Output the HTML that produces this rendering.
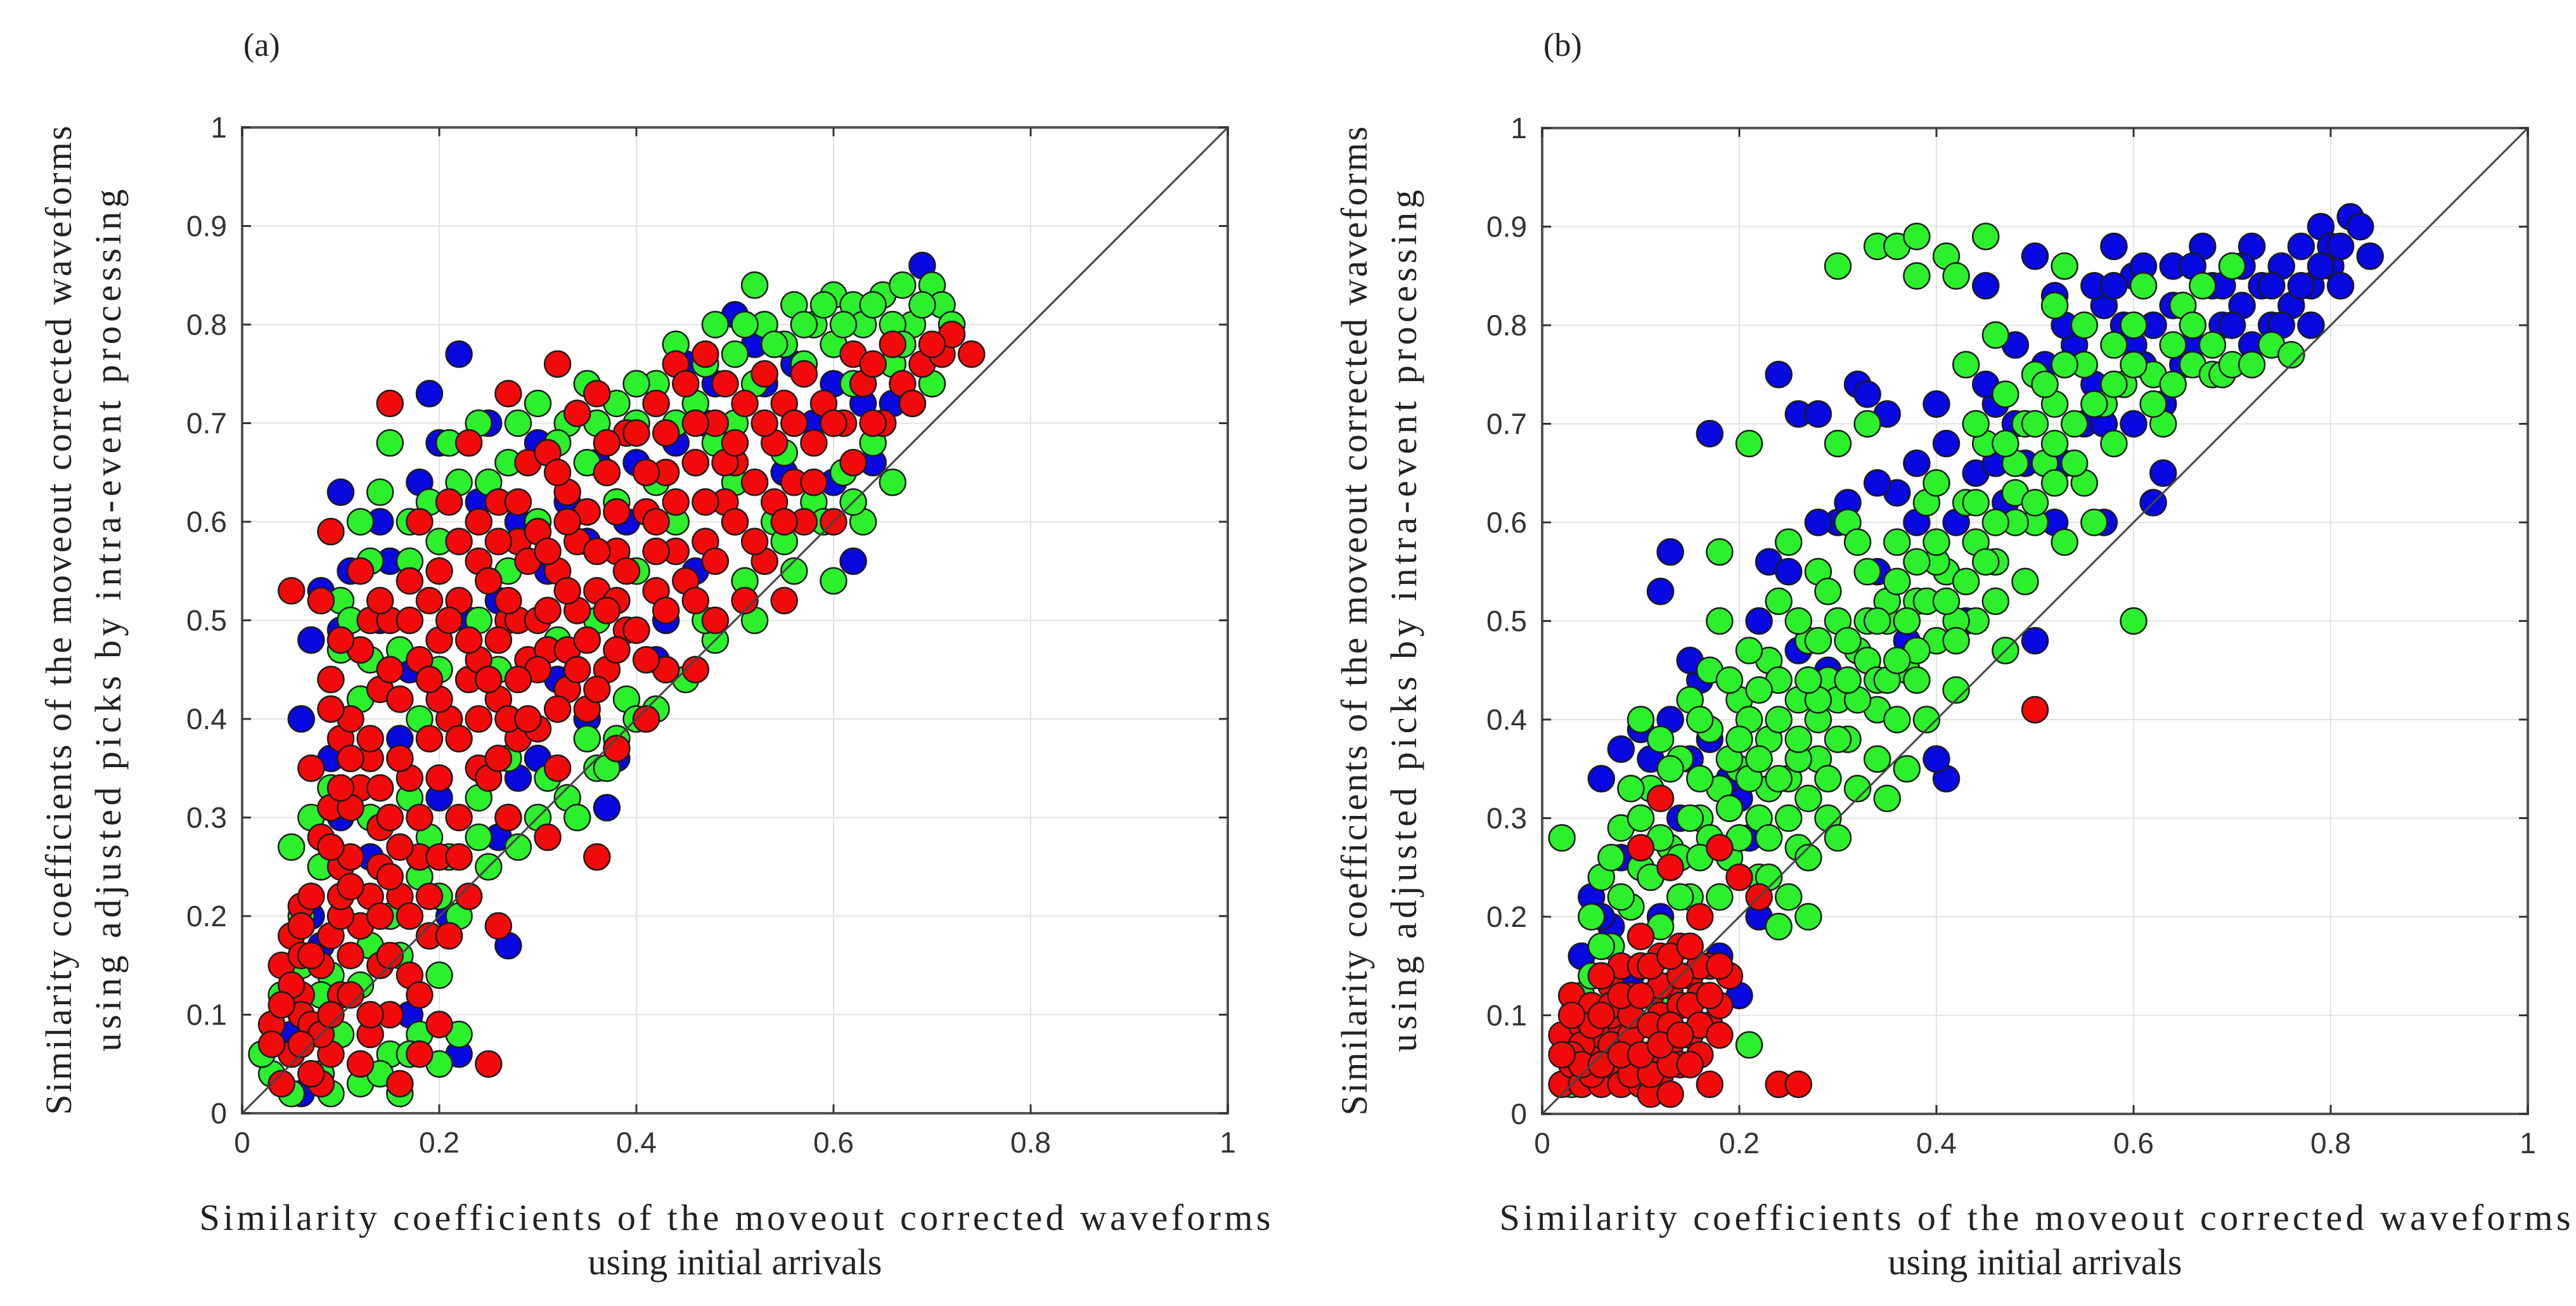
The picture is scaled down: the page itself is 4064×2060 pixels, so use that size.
<!DOCTYPE html>
<html><head><meta charset="utf-8"><style>html,body{margin:0;padding:0;background:#fff}svg{display:block}</style></head>
<body>
<svg id="fig" width="4064" height="2060" viewBox="0 0 4064 2060" xmlns="http://www.w3.org/2000/svg">
<rect width="4064" height="2060" fill="#fff"/>
<g id="pa"></g>
<g id="pb"></g>
</svg>
<script>
const xTicks=[0,0.2,0.4,0.6,0.8,1];
const xTickLabels=["0","0.2","0.4","0.6","0.8","1"];
const yTicks=[0,0.1,0.2,0.3,0.4,0.5,0.6,0.7,0.8,0.9,1];
const yTickLabels=["0","0.1","0.2","0.3","0.4","0.5","0.6","0.7","0.8","0.9","1"];
const blueA=[[0.03,0.09],[0.04,0.03],[0.06,0.02],[0.07,0.2],[0.06,0.4],[0.07,0.48],[0.08,0.53],[0.1,0.49],[0.1,0.63],[0.12,0.42],[0.14,0.5],[0.15,0.56],[0.16,0.38],[0.18,0.64],[0.19,0.73],[0.21,0.2],[0.22,0.06],[0.22,0.77],[0.24,0.62],[0.25,0.7],[0.27,0.17],[0.28,0.34],[0.3,0.68],[0.33,0.62],[0.35,0.58],[0.37,0.31],[0.38,0.36],[0.4,0.66],[0.42,0.72],[0.45,0.76],[0.46,0.55],[0.48,0.74],[0.5,0.6],[0.5,0.81],[0.53,0.74],[0.55,0.65],[0.58,0.7],[0.6,0.64],[0.62,0.56],[0.63,0.72],[0.66,0.72],[0.69,0.86],[0.7,0.74],[0.13,0.26],[0.2,0.32],[0.26,0.52],[0.32,0.44],[0.43,0.5],[0.17,0.1],[0.08,0.17],
[0.05,0.08],[0.09,0.36],[0.11,0.55],[0.14,0.6],[0.17,0.45],[0.2,0.68],[0.23,0.5],[0.28,0.6],[0.31,0.55],[0.36,0.66],[0.39,0.6],[0.44,0.68],[0.47,0.7],[0.52,0.78],[0.56,0.76],[0.6,0.74],[0.64,0.66],[0.67,0.78],[0.35,0.4],[0.3,0.36],[0.42,0.46],[0.26,0.28],[0.18,0.24],[0.1,0.3]];
const greenA=[[0.05,0.02],[0.08,0.04],[0.12,0.03],[0.16,0.02],[0.18,0.08],[0.15,0.06],[0.22,0.08],[0.1,0.08],[0.04,0.12],[0.06,0.15],[0.09,0.14],[0.13,0.17],[0.2,0.14],[0.22,0.2],[0.25,0.25],[0.28,0.27],[0.3,0.3],[0.33,0.32],[0.36,0.35],[0.38,0.38],[0.42,0.41],[0.45,0.44],[0.48,0.48],[0.52,0.5],[0.56,0.55],[0.6,0.54],[0.63,0.6],[0.05,0.27],[0.09,0.33],[0.11,0.36],[0.08,0.25],[0.13,0.3],[0.17,0.32],[0.19,0.28],[0.24,0.32],[0.27,0.36],[0.1,0.52],[0.13,0.56],[0.14,0.63],[0.15,0.68],[0.17,0.6],[0.2,0.58],[0.22,0.64],[0.24,0.7],[0.27,0.66],[0.3,0.72],[0.33,0.7],[0.35,0.74],[0.38,0.72],[0.4,0.7],[0.42,0.74],[0.44,0.78],[0.46,0.72],[0.48,0.8],[0.5,0.77],[0.52,0.84],[0.53,0.8],[0.55,0.78],[0.56,0.82],[0.58,0.8],[0.6,0.83],[0.62,0.82],[0.63,0.8],[0.65,0.83],[0.67,0.84],[0.68,0.8],[0.7,0.84],[0.71,0.82],[0.72,0.8],[0.6,0.78],[0.57,0.76],[0.5,0.7],[0.46,0.66],[0.42,0.64],[0.38,0.62],[0.35,0.66],[0.3,0.6],[0.27,0.55],[0.24,0.5],[0.2,0.45],[0.16,0.47],[0.12,0.42],[0.1,0.47],[0.07,0.3],[0.18,0.4],[0.26,0.45],[0.32,0.48],[0.36,0.5],[0.4,0.55],[0.44,0.6],[0.5,0.64],[0.55,0.67],[0.6,0.7],[0.64,0.68],[0.68,0.72],[0.66,0.76],[0.7,0.74],[0.58,0.62],[0.54,0.6],[0.61,0.65],[0.66,0.64],
[0.06,0.2],[0.07,0.04],[0.09,0.02],[0.14,0.04],[0.2,0.05],[0.17,0.06],[0.12,0.13],[0.15,0.2],[0.18,0.24],[0.21,0.26],[0.24,0.28],[0.27,0.3],[0.31,0.34],[0.35,0.38],[0.39,0.42],[0.43,0.45],[0.47,0.5],[0.51,0.54],[0.55,0.58],[0.59,0.6],[0.62,0.62],[0.12,0.6],[0.11,0.5],[0.13,0.46],[0.17,0.56],[0.19,0.62],[0.21,0.68],[0.25,0.64],[0.28,0.7],[0.32,0.68],[0.36,0.7],[0.4,0.74],[0.44,0.7],[0.47,0.76],[0.51,0.8],[0.54,0.78],[0.57,0.8],[0.59,0.82],[0.61,0.8],[0.64,0.82],[0.66,0.8],[0.69,0.82],[0.48,0.68],[0.52,0.74],[0.56,0.7],[0.62,0.74],[0.67,0.78],[0.03,0.04],[0.02,0.06],[0.08,0.12],[0.16,0.16],[0.2,0.22],[0.4,0.4],[0.37,0.35],[0.34,0.3]];
const redA=[[0.04,0.03],[0.05,0.06],[0.03,0.09],[0.06,0.12],[0.04,0.15],[0.05,0.18],[0.06,0.21],[0.03,0.07],[0.06,0.1],[0.05,0.53],[0.08,0.03],[0.09,0.06],[0.07,0.09],[0.1,0.12],[0.08,0.15],[0.09,0.18],[0.07,0.22],[0.1,0.25],[0.08,0.28],[0.09,0.31],[0.07,0.35],[0.1,0.38],[0.09,0.44],[0.08,0.52],[0.09,0.59],[0.12,0.05],[0.13,0.08],[0.11,0.12],[0.14,0.15],[0.12,0.19],[0.13,0.22],[0.11,0.26],[0.14,0.29],[0.12,0.33],[0.13,0.36],[0.11,0.4],[0.14,0.43],[0.12,0.47],[0.13,0.5],[0.12,0.55],[0.16,0.03],[0.18,0.06],[0.15,0.1],[0.17,0.14],[0.19,0.18],[0.16,0.22],[0.18,0.26],[0.15,0.3],[0.17,0.34],[0.19,0.38],[0.16,0.42],[0.18,0.46],[0.15,0.5],[0.17,0.54],[0.18,0.6],[0.15,0.72],[0.2,0.09],[0.21,0.18],[0.23,0.22],[0.2,0.26],[0.22,0.3],[0.24,0.35],[0.21,0.4],[0.23,0.44],[0.2,0.48],[0.22,0.52],[0.24,0.56],[0.21,0.62],[0.23,0.68],[0.25,0.05],[0.26,0.19],[0.27,0.3],[0.25,0.34],[0.28,0.38],[0.26,0.42],[0.29,0.46],[0.27,0.5],[0.25,0.54],[0.28,0.58],[0.26,0.62],[0.29,0.66],[0.27,0.73],[0.31,0.28],[0.32,0.35],[0.3,0.39],[0.33,0.43],[0.31,0.47],[0.34,0.51],[0.32,0.55],[0.3,0.59],[0.33,0.63],[0.31,0.67],[0.34,0.71],[0.32,0.76],[0.36,0.26],[0.38,0.37],[0.35,0.41],[0.37,0.45],[0.39,0.49],[0.36,0.53],[0.38,0.57],[0.35,0.61],[0.37,0.65],[0.39,0.69],[0.36,0.73],[0.41,0.4],[0.43,0.45],[0.4,0.49],[0.42,0.53],[0.44,0.57],[0.41,0.61],[0.43,0.65],[0.4,0.69],[0.42,0.72],[0.44,0.76],[0.46,0.45],[0.48,0.5],[0.45,0.54],[0.47,0.58],[0.49,0.62],[0.46,0.66],[0.48,0.7],[0.45,0.74],[0.47,0.77],[0.51,0.52],[0.53,0.56],[0.5,0.6],[0.52,0.64],[0.54,0.68],[0.51,0.72],[0.53,0.75],[0.55,0.52],[0.57,0.6],[0.56,0.64],[0.58,0.68],[0.55,0.72],[0.57,0.75],[0.6,0.6],[0.62,0.66],[0.61,0.7],[0.63,0.74],[0.62,0.77],[0.65,0.7],[0.67,0.74],[0.66,0.78],[0.69,0.76],[0.71,0.77],[0.74,0.77],[0.72,0.79],[0.14,0.25],[0.1,0.2],[0.16,0.36],[0.2,0.42],[0.24,0.46],[0.3,0.45],[0.34,0.58],[0.28,0.5],[0.22,0.38],[0.18,0.12],[0.11,0.31],[0.26,0.36],[0.38,0.52],[0.42,0.6],[0.5,0.66],[0.06,0.16],[0.08,0.08],
[0.07,0.04],[0.06,0.07],[0.05,0.13],[0.07,0.16],[0.06,0.19],[0.04,0.11],[0.09,0.1],[0.11,0.16],[0.1,0.22],[0.09,0.27],[0.1,0.33],[0.11,0.36],[0.09,0.41],[0.1,0.48],[0.11,0.23],[0.13,0.1],[0.14,0.2],[0.15,0.24],[0.14,0.33],[0.13,0.38],[0.15,0.45],[0.14,0.52],[0.16,0.27],[0.15,0.16],[0.19,0.22],[0.18,0.3],[0.2,0.34],[0.19,0.44],[0.17,0.5],[0.19,0.52],[0.2,0.55],[0.17,0.2],[0.22,0.26],[0.24,0.4],[0.23,0.48],[0.21,0.5],[0.25,0.44],[0.24,0.6],[0.22,0.58],[0.27,0.4],[0.26,0.48],[0.28,0.44],[0.27,0.52],[0.29,0.56],[0.26,0.58],[0.28,0.62],[0.29,0.4],[0.3,0.5],[0.33,0.47],[0.31,0.51],[0.32,0.41],[0.34,0.45],[0.33,0.53],[0.31,0.57],[0.33,0.6],[0.35,0.48],[0.32,0.65],[0.36,0.43],[0.38,0.47],[0.37,0.51],[0.36,0.57],[0.38,0.61],[0.39,0.55],[0.37,0.68],[0.41,0.46],[0.43,0.51],[0.42,0.57],[0.41,0.65],[0.44,0.62],[0.43,0.69],[0.46,0.52],[0.48,0.56],[0.47,0.62],[0.49,0.66],[0.46,0.7],[0.49,0.74],[0.52,0.58],[0.5,0.68],[0.54,0.62],[0.53,0.7],[0.55,0.6],[0.58,0.64],[0.59,0.72],[0.6,0.7],[0.56,0.7],[0.64,0.7],[0.64,0.76],[0.68,0.72],[0.7,0.78]];
const blueB=[[0.03,0.1],[0.06,0.34],[0.08,0.37],[0.1,0.39],[0.12,0.53],[0.13,0.57],[0.14,0.3],[0.15,0.36],[0.16,0.44],[0.17,0.69],[0.18,0.16],[0.2,0.32],[0.22,0.2],[0.23,0.56],[0.24,0.75],[0.26,0.71],[0.28,0.71],[0.3,0.6],[0.32,0.74],[0.33,0.73],[0.35,0.71],[0.36,0.63],[0.38,0.66],[0.4,0.72],[0.41,0.34],[0.42,0.6],[0.44,0.65],[0.45,0.84],[0.46,0.72],[0.48,0.78],[0.5,0.87],[0.5,0.48],[0.52,0.83],[0.54,0.78],[0.56,0.74],[0.57,0.82],[0.58,0.88],[0.59,0.8],[0.6,0.85],[0.6,0.7],[0.61,0.76],[0.62,0.8],[0.63,0.72],[0.64,0.86],[0.65,0.82],[0.66,0.78],[0.67,0.88],[0.68,0.84],[0.69,0.8],[0.7,0.86],[0.71,0.82],[0.72,0.78],[0.72,0.88],[0.73,0.84],[0.74,0.8],[0.75,0.86],[0.76,0.82],[0.77,0.88],[0.78,0.84],[0.79,0.9],[0.8,0.86],[0.8,0.88],[0.81,0.84],[0.82,0.91],[0.83,0.9],[0.84,0.87],[0.63,0.65],[0.55,0.7],[0.47,0.62],[0.43,0.5],[0.37,0.48],[0.34,0.55],[0.29,0.45],[0.26,0.47],[0.21,0.28],[0.12,0.2],[0.09,0.14],[0.07,0.19],[0.05,0.22],[0.53,0.66],[0.49,0.66],[0.57,0.6],[0.62,0.62],[0.4,0.36],[0.2,0.12],
[0.04,0.16],[0.06,0.2],[0.08,0.26],[0.1,0.3],[0.11,0.36],[0.13,0.4],[0.15,0.46],[0.17,0.38],[0.19,0.34],[0.22,0.5],[0.25,0.55],[0.28,0.6],[0.31,0.62],[0.34,0.64],[0.38,0.6],[0.41,0.68],[0.45,0.74],[0.48,0.7],[0.51,0.76],[0.53,0.8],[0.56,0.84],[0.58,0.84],[0.61,0.86],[0.64,0.82],[0.66,0.86],[0.69,0.84],[0.71,0.86],[0.74,0.84],[0.77,0.84],[0.79,0.86],[0.81,0.88],[0.6,0.78],[0.65,0.76],[0.7,0.8],[0.75,0.8],[0.78,0.8],[0.57,0.7],[0.52,0.6],[0.46,0.66]];
const greenB=[[0.02,0.28],[0.03,0.03],[0.04,0.12],[0.05,0.2],[0.06,0.24],[0.07,0.17],[0.08,0.29],[0.09,0.21],[0.1,0.25],[0.11,0.33],[0.12,0.19],[0.13,0.27],[0.14,0.36],[0.15,0.22],[0.16,0.3],[0.17,0.39],[0.17,0.45],[0.18,0.5],[0.18,0.57],[0.19,0.26],[0.2,0.35],[0.2,0.42],[0.21,0.07],[0.21,0.68],[0.22,0.3],[0.23,0.38],[0.23,0.46],[0.24,0.19],[0.24,0.52],[0.25,0.34],[0.25,0.58],[0.26,0.42],[0.26,0.27],[0.27,0.2],[0.27,0.48],[0.28,0.36],[0.28,0.55],[0.29,0.3],[0.29,0.44],[0.3,0.86],[0.3,0.5],[0.3,0.68],[0.31,0.38],[0.31,0.6],[0.32,0.33],[0.32,0.47],[0.33,0.55],[0.33,0.7],[0.34,0.88],[0.34,0.41],[0.35,0.5],[0.35,0.32],[0.36,0.88],[0.36,0.58],[0.37,0.45],[0.37,0.35],[0.38,0.89],[0.38,0.85],[0.38,0.52],[0.39,0.62],[0.39,0.4],[0.4,0.48],[0.41,0.55],[0.41,0.87],[0.42,0.85],[0.42,0.43],[0.43,0.76],[0.43,0.62],[0.44,0.5],[0.45,0.68],[0.45,0.89],[0.46,0.56],[0.46,0.79],[0.47,0.47],[0.47,0.73],[0.48,0.63],[0.49,0.7],[0.49,0.54],[0.5,0.75],[0.5,0.6],[0.51,0.66],[0.52,0.82],[0.52,0.72],[0.53,0.58],[0.53,0.86],[0.54,0.7],[0.55,0.76],[0.55,0.64],[0.56,0.6],[0.57,0.72],[0.58,0.68],[0.58,0.78],[0.59,0.74],[0.6,0.5],[0.6,0.8],[0.61,0.84],[0.62,0.75],[0.63,0.7],[0.64,0.78],[0.65,0.82],[0.66,0.76],[0.67,0.84],[0.68,0.75],[0.69,0.75],[0.7,0.86],[0.7,0.76],[0.72,0.76],[0.74,0.78],[0.76,0.77],[0.1,0.4],[0.12,0.38],[0.15,0.42],[0.18,0.33],[0.21,0.4],[0.24,0.44],[0.26,0.36],[0.3,0.42],[0.33,0.46],[0.36,0.4],[0.4,0.56],[0.44,0.58],[0.48,0.6],[0.52,0.64],[0.3,0.28],[0.27,0.32],[0.22,0.24],[0.08,0.1],[0.1,0.15],[0.13,0.12],[0.06,0.07],[0.19,0.36],[0.23,0.33],[0.28,0.4],[0.34,0.36],[0.38,0.44],[0.42,0.5],[0.46,0.52],[0.14,0.26],[0.16,0.34],
[0.15,0.3],[0.17,0.28],[0.19,0.31],[0.21,0.34],[0.23,0.28],[0.25,0.3],[0.22,0.36],[0.24,0.4],[0.26,0.38],[0.28,0.42],[0.3,0.38],[0.32,0.42],[0.34,0.44],[0.31,0.48],[0.33,0.5],[0.35,0.52],[0.37,0.5],[0.39,0.52],[0.36,0.54],[0.38,0.56],[0.4,0.58],[0.41,0.52],[0.43,0.54],[0.45,0.56],[0.44,0.62],[0.46,0.6],[0.48,0.66],[0.5,0.62],[0.47,0.68],[0.5,0.7],[0.52,0.68],[0.54,0.66],[0.51,0.74],[0.53,0.76],[0.56,0.72],[0.58,0.74],[0.55,0.8],[0.6,0.76],[0.62,0.72],[0.64,0.74],[0.66,0.8],[0.68,0.78],[0.29,0.34],[0.27,0.26],[0.25,0.22],[0.23,0.24],[0.2,0.28],[0.18,0.22],[0.16,0.26],[0.14,0.22],[0.12,0.28],[0.11,0.24],[0.13,0.35],[0.16,0.4],[0.19,0.44],[0.21,0.47],[0.2,0.38],[0.22,0.43],[0.26,0.5],[0.29,0.53],[0.32,0.58],[0.35,0.44],[0.38,0.47],[0.42,0.48],[0.27,0.44],[0.1,0.3],[0.08,0.22],[0.06,0.17],[0.05,0.14],[0.07,0.26],[0.09,0.33],[0.28,0.48],[0.31,0.44],[0.34,0.5],[0.44,0.7],[0.4,0.64],[0.36,0.46],[0.24,0.34]];
const redB=[[0.02,0.03],[0.03,0.05],[0.02,0.08],[0.04,0.03],[0.05,0.06],[0.04,0.09],[0.03,0.12],[0.06,0.03],[0.07,0.05],[0.06,0.08],[0.05,0.11],[0.07,0.13],[0.08,0.03],[0.09,0.06],[0.08,0.09],[0.09,0.12],[0.08,0.15],[0.1,0.03],[0.11,0.06],[0.1,0.09],[0.11,0.12],[0.1,0.15],[0.12,0.04],[0.13,0.07],[0.12,0.1],[0.13,0.13],[0.12,0.16],[0.14,0.05],[0.15,0.08],[0.14,0.11],[0.15,0.14],[0.14,0.17],[0.16,0.06],[0.17,0.09],[0.16,0.12],[0.17,0.15],[0.18,0.11],[0.19,0.14],[0.04,0.07],[0.07,0.1],[0.11,0.02],[0.13,0.02],[0.06,0.14],[0.1,0.18],[0.5,0.41],[0.24,0.03],[0.26,0.03],[0.17,0.03],[0.18,0.27],[0.2,0.24],[0.12,0.32],[0.1,0.27],[0.16,0.2],[0.22,0.22],[0.13,0.25],
[0.03,0.06],[0.05,0.04],[0.05,0.09],[0.07,0.07],[0.07,0.11],[0.09,0.04],[0.09,0.08],[0.09,0.1],[0.11,0.04],[0.11,0.09],[0.12,0.13],[0.13,0.05],[0.13,0.09],[0.15,0.05],[0.15,0.11],[0.16,0.09],[0.17,0.12],[0.16,0.15],[0.18,0.08],[0.04,0.05],[0.06,0.05],[0.08,0.06],[0.1,0.06],[0.12,0.07],[0.14,0.08],[0.08,0.12],[0.1,0.12],[0.14,0.14],[0.03,0.1],[0.02,0.06],[0.06,0.1],[0.11,0.15],[0.13,0.16],[0.15,0.17],[0.18,0.15]];

const NS="http://www.w3.org/2000/svg";
function mk(parent,tag,attrs,text){const e=document.createElementNS(NS,tag);for(const k in attrs)e.setAttribute(k,attrs[k]);if(text!==undefined)e.textContent=text;parent.appendChild(e);return e;}

function panel(g,x0,y0,size,label,series,ytitle1,ytitle2,ytx1,ytx2){
  const sx=v=>x0+v*size, sy=v=>y0-v*size;
  yTicks.forEach(t=>{if(t>0&&t<1){const l=mk(g,'line',{x1:x0,x2:x0+size,y1:sy(t),y2:sy(t),stroke:'#e3e3e3','stroke-width':2});
    
    }});
  xTicks.forEach(t=>{if(t>0&&t<1){const l=mk(g,'line',{x1:sx(t),x2:sx(t),y1:y0,y2:y0-size,stroke:'#e3e3e3','stroke-width':2});
    
    }});
  series.forEach(s=>{
    const sg=mk(g,'g',{});
    
    
    s.data.forEach(p=>{const c=mk(sg,'circle',{cx:sx(p[0]),cy:sy(p[1]),r:20.5,fill:s.color,stroke:'#1a1a1a','stroke-width':2.5});
      
      });
  });
  const d=mk(g,'line',{x1:sx(0),y1:sy(0),x2:sx(1),y2:sy(1),stroke:'#444','stroke-width':3});
  
  
  const f=mk(g,'rect',{x:x0,y:y0-size,width:size,height:size,fill:'none',stroke:'#555','stroke-width':4});
  
  
  xTicks.forEach((t,i)=>{
    mk(g,'line',{x1:sx(t),x2:sx(t),y1:y0,y2:y0-14,stroke:'#333','stroke-width':3});
    mk(g,'line',{x1:sx(t),x2:sx(t),y1:y0-size,y2:y0-size+14,stroke:'#333','stroke-width':3});
    const tl=mk(g,'text',{x:sx(t),y:y0+62,'text-anchor':'middle','font-family':'Liberation Sans, sans-serif','font-size':46,fill:'#333'},xTickLabels[i]);
    
    
  });
  yTicks.forEach((t,i)=>{
    mk(g,'line',{x1:x0,x2:x0+14,y1:sy(t),y2:sy(t),stroke:'#333','stroke-width':3});
    mk(g,'line',{x1:x0+size,x2:x0+size-14,y1:sy(t),y2:sy(t),stroke:'#333','stroke-width':3});
    const tl=mk(g,'text',{x:x0-24,y:sy(t)+16,'text-anchor':'end','font-family':'Liberation Sans, sans-serif','font-size':46,fill:'#333'},yTickLabels[i]);
    
    
  });
  const cx=x0+size/2, cy=y0-size/2;
  const xt1=mk(g,'text',{x:cx,y:1940,'text-anchor':'middle','font-family':'Liberation Serif, serif','font-size':58,fill:'#222',textLength:1690,lengthAdjust:'spacing'},'Similarity coefficients of the moveout corrected waveforms');
  
  
  const xt2=mk(g,'text',{x:cx,y:2010,'text-anchor':'middle','font-family':'Liberation Serif, serif','font-size':58,fill:'#222'},'using initial arrivals');
  
  
  const yt1=mk(g,'text',{x:0,y:0,transform:`translate(${ytx1},${cy}) rotate(-90)`,'text-anchor':'middle','font-family':'Liberation Serif, serif','font-size':58,fill:'#222',textLength:1560,lengthAdjust:'spacing'},ytitle1);
  
  
  const yt2=mk(g,'text',{x:0,y:0,transform:`translate(${ytx2},${cy}) rotate(-90)`,'text-anchor':'middle','font-family':'Liberation Serif, serif','font-size':58,fill:'#222',textLength:1360,lengthAdjust:'spacing'},ytitle2);
  
  
  const pl=mk(g,'text',{x:x0+2,y:88,'font-family':'Liberation Serif, serif','font-size':52,fill:'#222'},label);
  
  
}
const BLUE='#0808e0',GREEN='#2cf02c',RED='#f20a0a';
const Y1='Similarity coefficients of the moveout corrected waveforms', Y2='using adjusted picks by intra-event processing';
panel(document.getElementById('pa'),382,1756,1555,'(a)',[{name:'blue-series',color:BLUE,data:blueA},{name:'green-series',color:GREEN,data:greenA},{name:'red-series',color:RED,data:redA}],Y1,Y2,112,190);
panel(document.getElementById('pb'),2433,1757,1555,'(b)',[{name:'blue-series',color:BLUE,data:blueB},{name:'green-series',color:GREEN,data:greenB},{name:'red-series',color:RED,data:redB}],Y1,Y2,2156,2234);
</script>
</body></html>
